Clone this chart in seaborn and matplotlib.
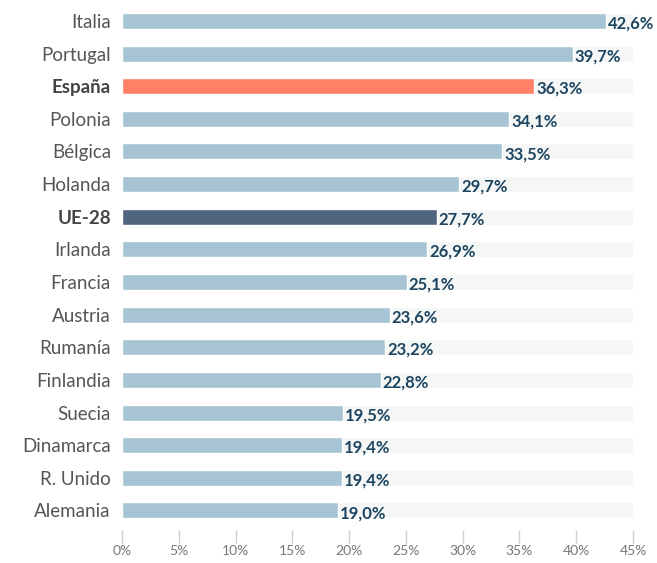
import matplotlib
matplotlib.use('Agg')
import matplotlib.pyplot as plt
import seaborn as sns
import pandas as pd

# data
paises = ['Italia', 'Portugal', 'España', 'Polonia', 'Bélgica', 'Holanda', 'UE-28',
          'Irlanda', 'Francia', 'Austria', 'Rumanía', 'Finlandia', 'Suecia',
          'Dinamarca', 'R. Unido', 'Alemania']
valores = [42.6, 39.7, 36.3, 34.1, 33.5, 29.7, 27.7, 26.9, 25.1, 23.6, 23.2, 22.8,
           19.5, 19.4, 19.4, 19.0]
destacados = {'España': '#ff8066', 'UE-28': '#51667e'}
ticks = [0, 5, 10, 15, 20, 25, 30, 35, 40, 45]

df = pd.DataFrame({'pais': paises, 'valor': valores})
colores = [destacados.get(p, '#a7c4d4') for p in paises]

sns.set_style('white')
plt.rcParams['font.family'] = ['Lato', 'DejaVu Sans']

fig = plt.figure(figsize=(6.57, 5.63), dpi=100)
ax = fig.add_axes([0.1857, 0.0586, 0.7778, 0.9414])

# fondo gris claro de cada barra
sns.barplot(x=[45] * len(paises), y=paises, color='#f5f7f7', width=0.49,
            saturation=1, ax=ax)
sns.barplot(data=df, x='valor', y='pais', hue='pais', palette=colores,
            width=0.49, saturation=1, legend=False, ax=ax)

for i, v in enumerate(valores):
    ax.text(v + 0.15, i + 0.08, f'{v:.1f}'.replace('.', ',') + '%', va='center',
            ha='left', fontsize=12, fontweight='bold', color='#1d4560')

ax.set_xlim(0, 45)
ax.set_ylim(15.6, -0.64)
ax.set_xticks(ticks)
ax.set_xticklabels([f'{t}%' for t in ticks], color='#777777', fontsize=10)
ax.set_xlabel('')
ax.set_ylabel('')
for s in ax.spines.values():
    s.set_visible(False)
ax.tick_params(axis='x', bottom=True, length=9, width=1, color='#d0d0d0',
               direction='out', pad=2)
ax.tick_params(axis='y', left=False, length=0, pad=8)
for lab in ax.get_yticklabels():
    lab.set_fontsize(13.5)
    lab.set_color('#555555')
    if lab.get_text() in destacados:
        lab.set_fontweight('bold')
        lab.set_color('#444444')

fig.savefig('out.png', dpi=100)
